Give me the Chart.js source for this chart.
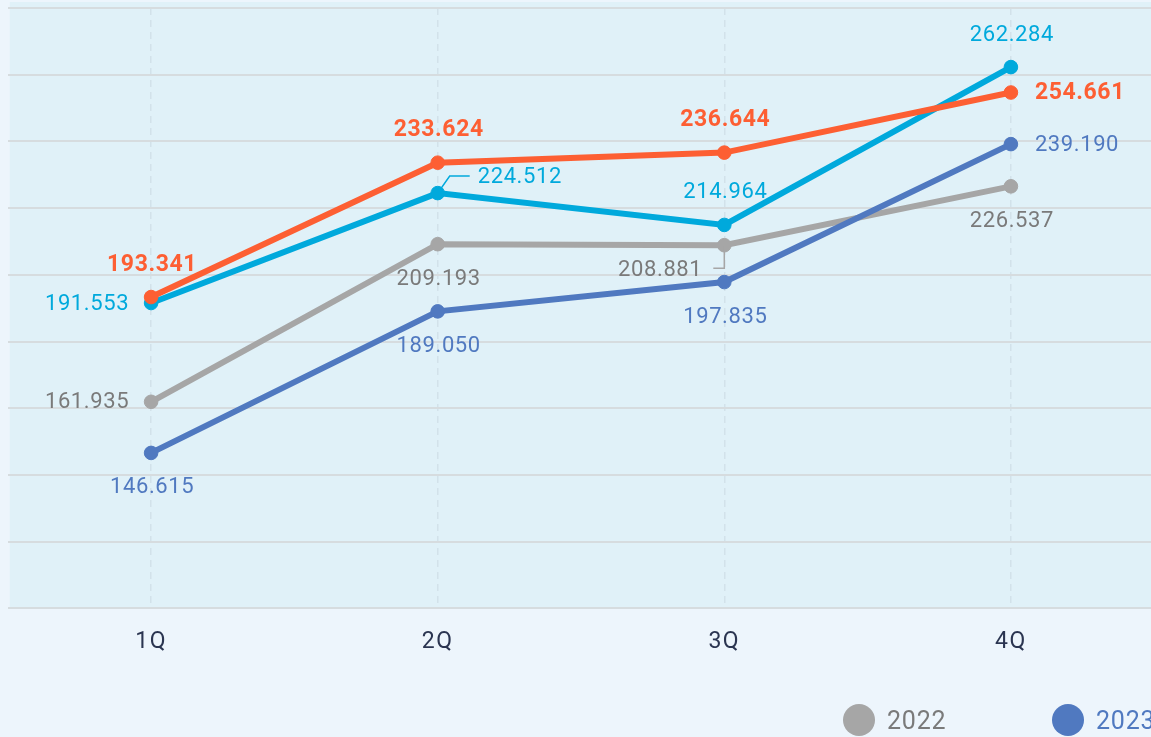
<!DOCTYPE html>
<html>
<head>
<meta charset="utf-8">
<script src="https://cdn.jsdelivr.net/npm/chart.js@4.4.1/dist/chart.umd.min.js"></script>
<style>
  html, body { margin: 0; padding: 0; background: #edf5fc; overflow: hidden; }
  #wrap { position: relative; width: 1151px; height: 737px; overflow: hidden; background: #edf5fc; }
  #box { position: absolute; left: 0; top: 0; width: 1162px; height: 737px; }
  #legend { position: absolute; left: 843px; top: 704px; white-space: nowrap; font-family: Roboto, "Noto Sans", sans-serif; font-size: 25px; letter-spacing: 0.8px; }
  .item { display: inline-flex; align-items: center; width: 209px; }
  .dot { width: 32px; height: 32px; border-radius: 50%; margin-right: 12px; }
</style>
</head>
<body>
<div id="wrap">
  <div id="box"><canvas id="c"></canvas></div>
  <div id="legend"></div>
</div>
<script>
const categories = ['1Q', '2Q', '3Q', '4Q'];
const seriesNames = ['2022', '2023', '2024', '2025'];
const values2022 = [161.935, 209.193, 208.881, 226.537];
const values2023 = [146.615, 189.050, 197.835, 239.190];
const values2024 = [191.553, 224.512, 214.964, 262.284];
const values2025 = [193.341, 233.624, 236.644, 254.661];
const yTicks = [100, 120, 140, 160, 180, 200, 220, 240, 260, 280];

const colors = ['#a6a6a6', '#5079c0', '#00a9dc', '#fd5f33'];
const labelColors = ['#7a7a7a', '#5079c0', '#00a9dc', '#fd5f33'];
const legendTextColors = ['#7a7a7a', '#5079c0', '#00a9dc', '#fd5f33'];
// label placement per series/point
const placement = [
  ['left', 'below', 'leaderDL', 'below'],
  ['below', 'below', 'below', 'right'],
  ['left', 'leaderUR', 'above', 'above'],
  ['above', 'above', 'above', 'right']
];
const allValues = [values2022, values2023, values2024, values2025];

const legend = document.getElementById('legend');
seriesNames.forEach((n, i) => {
  const it = document.createElement('span');
  it.className = 'item';
  it.innerHTML = '<span class="dot" style="background:' + colors[i] + '"></span><span style="color:' + legendTextColors[i] + '">' + n + '</span>';
  legend.appendChild(it);
});

const bgPlugin = {
  id: 'plotBg',
  beforeDraw(chart) {
    const { ctx, chartArea } = chart;
    ctx.save();
    ctx.fillStyle = '#e0f1f8';
    ctx.fillRect(chartArea.left + 2, chartArea.top - 6, chartArea.right - chartArea.left, chartArea.bottom - chartArea.top + 6);
    ctx.restore();
    try { ctx.letterSpacing = '1.5px'; } catch (e) {}
  }
};

const labelPlugin = {
  id: 'valLabels',
  afterDatasetsDraw(chart) {
    const ctx = chart.ctx;
    ctx.save();
    try { ctx.letterSpacing = '0.6px'; } catch (e) {}
    chart.data.datasets.forEach((ds, i) => {
      const meta = chart.getDatasetMeta(i);
      const bold = i === 3;
      ctx.font = (bold ? 'bold 23px' : '22px') + ' Roboto, sans-serif';
      ctx.fillStyle = labelColors[i];
      ctx.textBaseline = 'middle';
      meta.data.forEach((pt, j) => {
        const txt = ds.data[j].toFixed(3);
        const x = pt.x, y = pt.y;
        const p = placement[i][j];
        if (p === 'left') { ctx.textAlign = 'right'; ctx.fillText(txt, x - 22, y + 1); }
        else if (p === 'right') { ctx.textAlign = 'left'; ctx.fillText(txt, x + 24, y + 1); }
        else if (p === 'above') { ctx.textAlign = 'center'; ctx.fillText(txt, x + 1, y - 32); }
        else if (p === 'below') { ctx.textAlign = 'center'; ctx.fillText(txt, x + 1, y + 35); }
        else if (p === 'leaderUR') {
          ctx.strokeStyle = labelColors[i]; ctx.lineWidth = 1.5;
          ctx.beginPath(); ctx.moveTo(x, y); ctx.lineTo(x + 12, y - 17); ctx.lineTo(x + 32, y - 17); ctx.stroke();
          ctx.textAlign = 'left'; ctx.fillText(txt, x + 40, y - 16);
        } else if (p === 'leaderDL') {
          ctx.strokeStyle = colors[i]; ctx.lineWidth = 1.5;
          ctx.beginPath(); ctx.moveTo(x, y); ctx.lineTo(x, y + 23); ctx.lineTo(x - 11, y + 23); ctx.stroke();
          ctx.textAlign = 'right'; ctx.fillText(txt, x - 22, y + 25);
        }
      });
    });
    ctx.restore();
  }
};

new Chart(document.getElementById('c'), {
  type: 'line',
  data: {
    labels: categories,
    datasets: allValues.map((vals, i) => ({
      label: seriesNames[i],
      data: vals,
      borderColor: colors[i],
      backgroundColor: colors[i],
      pointBackgroundColor: colors[i],
      pointBorderColor: colors[i],
      borderWidth: 6,
      pointRadius: 6.8,
      pointBorderWidth: 1,
      tension: 0,
      order: 4 - i
    }))
  },
  options: {
    responsive: true,
    maintainAspectRatio: false,
    animation: false,
    layout: { padding: { left: 0, right: 1, top: 8, bottom: 61 } },
    plugins: { legend: { display: false }, tooltip: { enabled: false } },
    scales: {
      x: {
        offset: true,
        grid: { offset: false, color: '#d2e2ea', lineWidth: 1.5, drawTicks: false },
        border: { display: false, dash: [7, 5] },
        ticks: { color: '#2b3551', font: { family: 'Roboto', size: 23 }, padding: 20 }
      },
      y: {
        min: 100, max: 280,
        afterBuildTicks(axis) { axis.ticks = yTicks.map(v => ({ value: v })); },
        grid: { color: '#d6dcdf', lineWidth: 2, drawTicks: false },
        border: { display: false },
        ticks: { display: false }
      }
    }
  },
  plugins: [bgPlugin, labelPlugin]
});
</script>
</body>
</html>
